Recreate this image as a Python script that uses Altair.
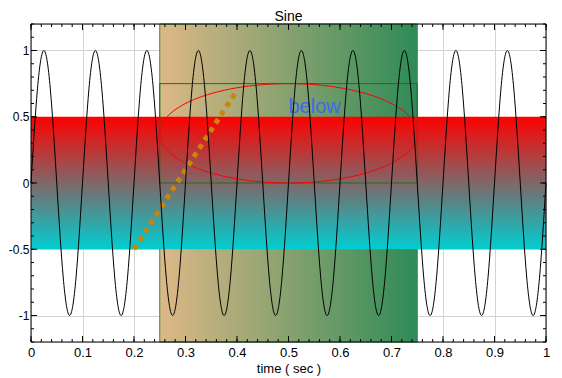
import altair as alt
import pandas as pd
import numpy as np

# ---- data -------------------------------------------------------------
# sine curve samples (8 per period, 10 periods over 1 s)
sine_t = [round(i * 0.0125, 4) for i in range(81)]
sine_v = [
    0, 0.71, 1, 0.71, 0, -0.71, -1, -0.71,
    0, 0.71, 1, 0.71, 0, -0.71, -1, -0.71,
    0, 0.71, 1, 0.71, 0, -0.71, -1, -0.71,
    0, 0.71, 1, 0.71, 0, -0.71, -1, -0.71,
    0, 0.71, 1, 0.71, 0, -0.71, -1, -0.71,
    0, 0.71, 1, 0.71, 0, -0.71, -1, -0.71,
    0, 0.71, 1, 0.71, 0, -0.71, -1, -0.71,
    0, 0.71, 1, 0.71, 0, -0.71, -1, -0.71,
    0, 0.71, 1, 0.71, 0, -0.71, -1, -0.71,
    0, 0.71, 1, 0.71, 0, -0.71, -1, -0.71,
    0,
]

# vertical band (x range) and horizontal band (y range)
vband_x = [0.25, 0.75]
hband_y = [-0.5, 0.5]
# rectangle annotation
rect_x = [0.25, 0.75]
rect_y = [0.0, 0.75]
# ellipse annotation: center and radii
ell_center = [0.5, 0.375]
ell_radius = [0.25, 0.375]
# dotted line annotation
dot_x = [0.2, 0.4]
dot_y = [-0.5, 0.7]
# text annotation
text_xy = [0.5, 0.5]
text_label = ["below"]

x_major = [0, 0.1, 0.2, 0.3, 0.4, 0.5, 0.6, 0.7, 0.8, 0.9, 1]
x_minor = [round(i * 0.02, 2) for i in range(51)]
y_major = [-1, -0.5, 0, 0.5, 1]
y_minor = [round(-1.2 + i * 0.1, 1) for i in range(25)]

X_DOMAIN = [0, 1]
Y_DOMAIN = [-1.2, 1.2]
PAD_L, PAD_T = 23, 16
W, H = 546 - 8 - PAD_L, 318

FONT = "Liberation Sans"

xs = alt.Scale(domain=X_DOMAIN, nice=False, zero=False)
ys = alt.Scale(domain=Y_DOMAIN, nice=False, zero=False)

XAXIS = alt.Axis(
    values=x_major, grid=True, gridColor="#d3d3d3", ticks=False, tickSize=0, domain=False,
    labelExpr="'' + datum.value", labelFont=FONT, labelFontSize=13, labelColor="black",
    labelPadding=4, title="time ( sec )", titleFont=FONT, titleFontSize=13,
    titleFontWeight="normal", titleColor="black", titlePadding=3, labelFlush=False)
YAXIS = alt.Axis(
    values=y_major, grid=True, gridColor="#d3d3d3", ticks=False, tickSize=0, domain=False,
    labelExpr="'' + datum.value", labelFont=FONT, labelFontSize=12, labelColor="black",
    labelPadding=2, title=None, labelFlush=False)


def X(field):
    return alt.X(field, scale=xs, axis=XAXIS)


def Y(field):
    return alt.Y(field, scale=ys, axis=YAXIS)


# ---- layers -----------------------------------------------------------
vband = alt.Chart(pd.DataFrame({"x": [vband_x[0]], "x2": [vband_x[1]],
                                "y": [Y_DOMAIN[0]], "y2": [Y_DOMAIN[1]]})).mark_rect(
    fill=alt.Gradient(gradient="linear",
                      stops=[alt.GradientStop(color="#deb887", offset=0),
                             alt.GradientStop(color="#2e8b57", offset=1)],
                      x1=0, x2=1, y1=0, y2=0),
    stroke="#2e8b57", strokeWidth=1,
).encode(x=X("x:Q"), x2="x2:Q", y=Y("y:Q"), y2="y2:Q")

hband = alt.Chart(pd.DataFrame({"x": [X_DOMAIN[0]], "x2": [X_DOMAIN[1]],
                                "y": [hband_y[0]], "y2": [hband_y[1]]})).mark_rect(
    fill=alt.Gradient(gradient="linear",
                      stops=[alt.GradientStop(color="#ff0000", offset=0),
                             alt.GradientStop(color="#00ced1", offset=1)],
                      x1=0, x2=0, y1=0, y2=1),
).encode(x=X("x:Q"), x2="x2:Q", y=Y("y:Q"), y2="y2:Q")

rect = alt.Chart(pd.DataFrame({"x": [rect_x[0]], "x2": [rect_x[1]],
                               "y": [rect_y[0]], "y2": [rect_y[1]]})).mark_rect(
    fillOpacity=0, stroke="#1e6e1e", strokeWidth=1,
).encode(x=X("x:Q"), x2="x2:Q", y=Y("y:Q"), y2="y2:Q")

ang = np.linspace(0, 2 * np.pi, 121)
ell_df = pd.DataFrame({
    "x": ell_center[0] + ell_radius[0] * np.cos(ang),
    "y": ell_center[1] + ell_radius[1] * np.sin(ang),
    "o": np.arange(len(ang)),
})
ellipse = alt.Chart(ell_df).mark_line(color="#ff0000", strokeWidth=1).encode(
    x=X("x:Q"), y=Y("y:Q"), order="o:Q")

dotted = alt.Chart(pd.DataFrame({"x": dot_x, "y": dot_y})).mark_line(
    color="#c8860b", strokeWidth=5, strokeDash=[5, 5], strokeCap="butt",
).encode(x=X("x:Q"), y=Y("y:Q"))

text = alt.Chart(pd.DataFrame({"x": [text_xy[0]], "y": [text_xy[1]], "t": text_label})).mark_text(
    align="left", baseline="bottom", font=FONT, fontSize=20, color="#4169e1",
).encode(x=X("x:Q"), y=Y("y:Q"), text="t:N")

sine = alt.Chart(pd.DataFrame({"x": sine_t, "y": sine_v})).mark_line(
    color="black", strokeWidth=1, interpolate="natural",
).encode(x=X("x:Q"), y=Y("y:Q"))

frame = alt.Chart(pd.DataFrame({"a": [0]})).mark_rect(
    fillOpacity=0, stroke="black", strokeWidth=1,
).encode(x=alt.value(0), x2=alt.value(W), y=alt.value(0), y2=alt.value(H))


def xticks(vals, length):
    d = alt.Chart(pd.DataFrame({"x": vals}))
    bottom = d.mark_rule(color="black", strokeWidth=1).encode(
        x=X("x:Q"), y=alt.value(H), y2=alt.value(H - length))
    top = d.mark_rule(color="black", strokeWidth=1).encode(
        x=X("x:Q"), y=alt.value(0), y2=alt.value(length))
    return [bottom, top]


def yticks(vals, length):
    d = alt.Chart(pd.DataFrame({"y": vals}))
    left = d.mark_rule(color="black", strokeWidth=1).encode(
        y=Y("y:Q"), x=alt.value(0), x2=alt.value(length))
    right = d.mark_rule(color="black", strokeWidth=1).encode(
        y=Y("y:Q"), x=alt.value(W), x2=alt.value(W - length))
    return [left, right]


tick_layers = xticks(x_minor, 3) + xticks(x_major, 6) + yticks(y_minor, 3) + yticks(y_major, 6)

chart = alt.layer(
    vband, hband, rect, ellipse, dotted, text, sine, frame, *tick_layers
).properties(
    width=W, height=H,
    title=alt.TitleParams("Sine", font=FONT, fontSize=14, fontWeight="normal",
                          color="black", offset=0),
    autosize=alt.AutoSizeParams(type="none"),
    padding={"left": PAD_L, "top": PAD_T, "right": 8, "bottom": 36},
).configure_view(stroke=None).configure(background="white")

chart.save("out.html", embed_options={"renderer": "svg", "actions": False})
